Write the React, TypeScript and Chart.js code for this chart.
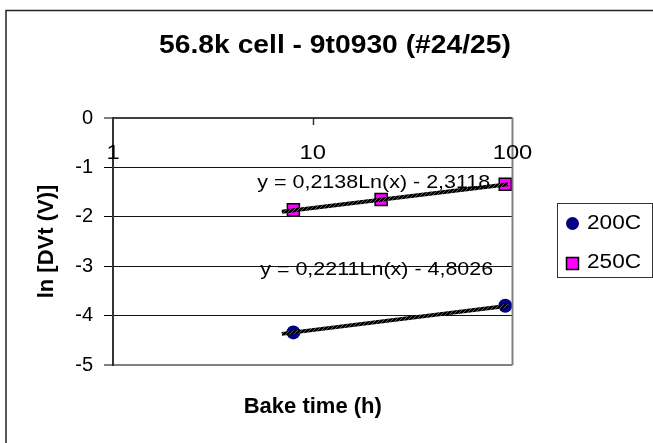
import React, { useEffect, useRef } from 'react';
import { Chart, registerables } from 'chart.js';

Chart.register(...registerables);

// ---- data ----
const TITLE = '56.8k cell - 9t0930 (#24/25)';
const X_TITLE = 'Bake time (h)';
const Y_TITLE = 'ln [DVt (V)]';
const X_TICK_LABELS = [1, 10, 100];
const X_MIN = 1;
const X_MAX = 100;
const Y_MIN = -5;
const Y_MAX = 0;

const SERIES_NAMES = ['200C', '250C'];
const bake200 = [8, 92];
const lnDvt200 = [-4.34, -3.8];
const bake250 = [8, 22, 92];
const lnDvt250 = [-1.86, -1.65, -1.34];

const trendX = [7, 95];
const trend200 = [-4.37, -3.8];
const trend250 = [-1.9, -1.34];
const EQ200 = 'y = 0,2211Ln(x) - 4,8026';
const EQ250 = 'y = 0,2138Ln(x) - 2,3118';

// ---- styles ----
const FONT = '"Liberation Sans", Arial, Helvetica, sans-serif';
const SX = 1.13; // horizontal stretch of the original rendering
const NAVY = '#000080';
const MAGENTA = '#FF00FF';

function drawText(
  ctx: CanvasRenderingContext2D,
  text: string,
  x: number,
  y: number,
  font: string,
  align: CanvasTextAlign,
  sx = SX
) {
  ctx.save();
  ctx.font = font;
  ctx.fillStyle = '#000';
  ctx.textBaseline = 'middle';
  ctx.textAlign = align;
  ctx.translate(x, y);
  ctx.scale(sx, 1);
  ctx.fillText(text, 0, 0);
  ctx.restore();
}

const decorPlugin = {
  id: 'decor',
  afterDraw(chart: any) {
    const ctx: CanvasRenderingContext2D = chart.ctx;
    const xs = chart.scales.x;
    const ys = chart.scales.y;
    const ca = chart.chartArea;

    // outer chart border
    ctx.save();
    ctx.strokeStyle = '#222';
    ctx.lineWidth = 1.5;
    ctx.strokeRect(6, 10.5, 720, 520);
    ctx.restore();

    // right plot border
    ctx.save();
    ctx.strokeStyle = '#808080';
    ctx.lineWidth = 2;
    ctx.beginPath();
    ctx.moveTo(ca.right, ca.top);
    ctx.lineTo(ca.right, ca.bottom);
    ctx.stroke();
    ctx.restore();

    // x tick labels under the y=0 axis, and the major tick at 10
    const y0 = ys.getPixelForValue(0);
    X_TICK_LABELS.forEach((v) => {
      drawText(ctx, String(v), xs.getPixelForValue(v), y0 + 35, `21px ${FONT}`, 'center');
    });
    ctx.save();
    ctx.strokeStyle = '#333';
    ctx.lineWidth = 1.5;
    ctx.beginPath();
    const x10 = Math.round(xs.getPixelForValue(10)) + 0.5;
    ctx.moveTo(x10, y0);
    ctx.lineTo(x10, y0 + 7);
    ctx.stroke();
    ctx.restore();

    // trendline equations
    drawText(ctx, EQ250, xs.getPixelForValue(20.2), ys.getPixelForValue(-1.31), `19px ${FONT}`, 'center');
    drawText(ctx, EQ200, xs.getPixelForValue(20.9), ys.getPixelForValue(-3.08), `19px ${FONT}`, 'center');

    // chart title
    drawText(ctx, TITLE, 335, 46.5, `bold 25px ${FONT}`, 'center');

    // legend
    const lx = 557.5, ly = 203.5, lw = 95, lh = 74;
    ctx.save();
    ctx.fillStyle = '#fff';
    ctx.fillRect(lx, ly, lw, lh);
    ctx.strokeStyle = '#333';
    ctx.lineWidth = 1;
    ctx.strokeRect(lx, ly, lw, lh);
    // 200C marker
    ctx.fillStyle = NAVY;
    ctx.beginPath();
    ctx.arc(572.5, 223.5, 6.5, 0, Math.PI * 2);
    ctx.fill();
    // 250C marker
    ctx.fillStyle = MAGENTA;
    ctx.fillRect(566.5, 257.5, 12, 12);
    ctx.strokeStyle = '#000';
    ctx.lineWidth = 1.5;
    ctx.strokeRect(566.5, 257.5, 12, 12);
    ctx.restore();
    drawText(ctx, SERIES_NAMES[0], 587, 223.5, `20px ${FONT}`, 'left');
    drawText(ctx, SERIES_NAMES[1], 587, 262.5, `20px ${FONT}`, 'left');
  },
};

function makeHatch(): CanvasPattern | string {
  const pc = document.createElement('canvas');
  pc.width = 4;
  pc.height = 4;
  const p = pc.getContext('2d');
  if (!p) return '#111';
  p.fillStyle = '#000';
  p.fillRect(0, 0, 4, 4);
  p.fillStyle = '#5a5a5a';
  for (let i = 0; i < 4; i++) p.fillRect(i, 3 - i, 1, 1);
  const pat = p.createPattern(pc, 'repeat');
  return pat || '#111';
}

export default function App() {
  const ref = useRef<HTMLCanvasElement | null>(null);

  useEffect(() => {
    if (!ref.current) return;
    const hatch = makeHatch();
    const chart = new Chart(ref.current, {
      type: 'scatter',
      data: {
        datasets: [
          {
            label: 'trend 250C',
            data: trendX.map((x, i) => ({ x, y: trend250[i] })),
            showLine: true,
            borderColor: hatch as any,
            borderWidth: 4,
            pointRadius: 0,
          },
          {
            label: 'trend 200C',
            data: trendX.map((x, i) => ({ x, y: trend200[i] })),
            showLine: true,
            borderColor: hatch as any,
            borderWidth: 4,
            pointRadius: 0,
          },
          {
            label: SERIES_NAMES[0],
            data: bake200.map((x, i) => ({ x, y: lnDvt200[i] })),
            pointStyle: 'circle',
            pointRadius: 7,
            backgroundColor: NAVY,
            borderColor: NAVY,
            borderWidth: 0,
          },
          {
            label: SERIES_NAMES[1],
            data: bake250.map((x, i) => ({ x, y: lnDvt250[i] })),
            pointStyle: 'rect',
            pointRadius: 8.5,
            backgroundColor: MAGENTA,
            borderColor: '#000',
            borderWidth: 1.5,
          },
        ],
      },
      options: {
        responsive: false,
        animation: false,
        devicePixelRatio: 1,
        layout: { padding: { top: 118, left: 0, right: 140.5, bottom: 0 } },
        plugins: {
          legend: { display: false },
          title: { display: false },
          tooltip: { enabled: false },
        },
        scales: {
          x: {
            type: 'logarithmic',
            position: 'bottom',
            min: X_MIN,
            max: X_MAX,
            ticks: { display: false },
            grid: { display: false },
            border: { display: false },
            title: {
              display: true,
              text: X_TITLE,
              color: '#000',
              font: { family: FONT, size: 22, weight: 'bold' },
              padding: { top: 0, bottom: 23 },
            },
            afterFit: (s: any) => {
              s.height = 78;
            },
          },
          y: {
            type: 'linear',
            position: 'left',
            min: Y_MIN,
            max: Y_MAX,
            ticks: {
              stepSize: 1,
              color: '#000',
              font: { family: FONT, size: 20 },
              padding: 11,
            },
            grid: {
              color: (c: any) =>
                c.tick && c.tick.value === 0 ? '#404040' : c.tick && c.tick.value === -5 ? '#808080' : '#111',
              lineWidth: (c: any) => (c.tick && (c.tick.value === 0 || c.tick.value === -5) ? 2 : 1),
              tickColor: '#000',
              tickLength: 9,
              tickWidth: 1,
            },
            border: { color: '#333', width: 2 },
            title: {
              display: true,
              text: Y_TITLE,
              color: '#000',
              font: { family: FONT, size: 22, weight: 'bold' },
              padding: { top: 34, bottom: 0 },
            },
            afterFit: (s: any) => {
              s.width = 113;
            },
          },
        },
      },
      plugins: [decorPlugin],
    });
    return () => chart.destroy();
  }, []);

  return (
    <div style={{ position: 'absolute', left: 0, top: 0, width: 653, height: 443, background: '#fff' }}>
      <canvas ref={ref} width={653} height={443} style={{ display: 'block' }} />
    </div>
  );
}
